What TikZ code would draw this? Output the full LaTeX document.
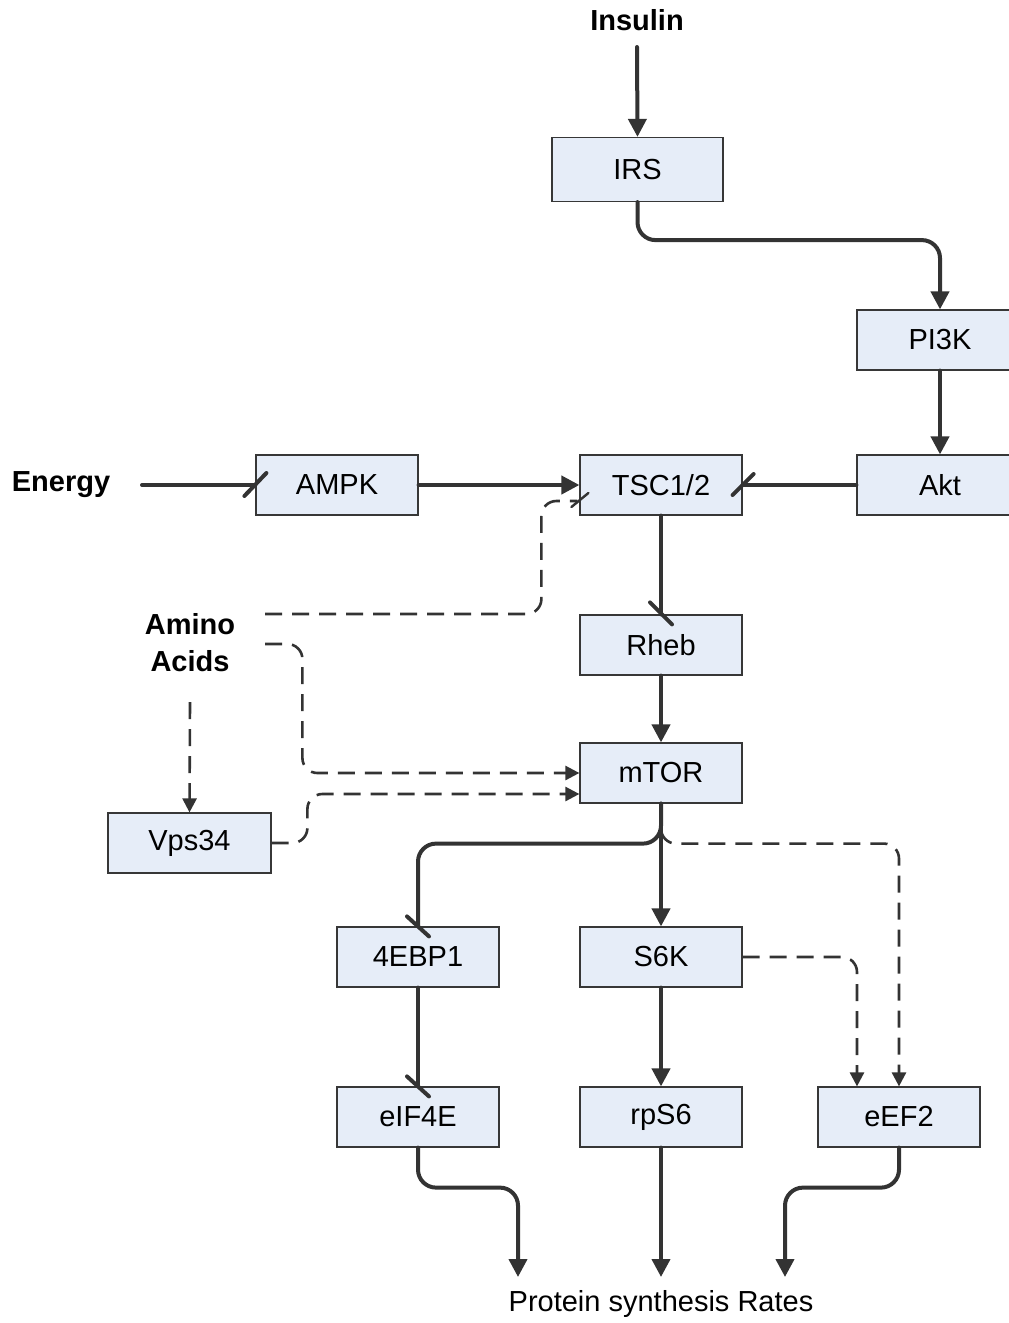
\documentclass[tikz,border=0pt]{standalone}
\usepackage{fontspec}
\setmainfont{Liberation Sans}
\usetikzlibrary{arrows.meta,calc}
\definecolor{boxfill}{RGB}{230,237,248}
\definecolor{boxborder}{RGB}{55,55,55}
\definecolor{lc}{RGB}{51,51,51}
\tikzset{
  box/.style={draw=boxborder, fill=boxfill, line width=1.2pt, minimum width=162pt,
    minimum height=60pt, inner sep=0pt, font=\fontsize{29}{35}\selectfont},
  lbl/.style={font=\fontsize{29}{37}\selectfont\bfseries, align=center, inner sep=0pt},
  conn/.style={draw=lc, line width=4pt, line cap=round, rounded corners=18pt,
    -{Triangle[length=18pt,width=18pt]}},
  inh/.style={draw=lc, line width=4pt, line cap=round, rounded corners=18pt},
  dconn/.style={draw=lc, line width=2.6pt, dash pattern=on 17pt off 10pt,
    rounded corners=15pt, -{Triangle[length=14pt,width=14pt]}},
  dinh/.style={draw=lc, line width=2.6pt, dash pattern=on 17pt off 10pt, rounded corners=15pt},
  tick/.style={draw=lc, line width=4pt, line cap=round},
  dtick/.style={draw=lc, line width=2.4pt, line cap=round}
}
\begin{document}
\begin{tikzpicture}[x=1pt,y=-1pt]
\useasboundingbox (0,0) rectangle (1009,1323);
\clip (0,0) rectangle (1009,1323);

% labels
\node[lbl] (ins) at (637,20) {Insulin};
\node[lbl] (energy) at (61,485) {Energy};
\node[lbl] (aa) at (190,643) {Amino\\Acids};
\node[font=\fontsize{29}{35}\selectfont, inner sep=0pt] (psr) at (661,1304) {Protein synthesis Rates};

% boxes
\node[box, minimum width=171pt, minimum height=64pt] (irs) at (637.5,169.5) {IRS};
\node[box, minimum width=166pt] (pik) at (940,340) {PI3K};
\node[box, minimum width=166pt] (akt) at (940,485) {Akt};
\node[box] (ampk) at (337,485) {AMPK};
\node[box] (tsc) at (661,485) {TSC1/2};
\node[box] (rheb) at (661,645) {Rheb};
\node[box] (mtor) at (661,773) {mTOR};
\node[box, minimum width=163pt] (vps) at (189.5,843) {Vps34};
\node[box] (ebp) at (418,957) {4EBP1};
\node[box] (s6k) at (661,957) {S6K};
\node[box] (eif) at (418,1117) {eIF4E};
\node[box] (rps) at (661,1117) {rpS6};
\node[box] (eef) at (899,1117) {eEF2};

% free ends
\coordinate (insS) at (637,47);
\coordinate (enE) at (142,485);
\coordinate (aa1) at (265,614);
\coordinate (aa2) at (265,644);
\coordinate (aa3) at (190,702);
\coordinate (p1) at (518,1277);
\coordinate (p2) at (661,1277);
\coordinate (p3) at (785,1277);

% solid connectors
\draw[conn] (insS) -- (irs.north);
\draw[conn] (irs.south) -- ++(0,38) -| (pik.north);
\draw[conn] (pik.south) -- (akt.north);
\draw[inh] (akt.west) -- (tsc.east);
\draw[tick] ($(tsc.east)+(-10,10)$) -- ($(tsc.east)+(11,-11)$);
\draw[inh] (enE) -- (ampk.west);
\draw[tick] ($(ampk.west)+(-11,11)$) -- ($(ampk.west)+(11,-12)$);
\draw[conn] (ampk.east) -- (tsc.west);
\draw[inh] (tsc.south) -- (rheb.north);
\draw[tick] ($(rheb.north)+(-11,-12)$) -- ($(rheb.north)+(11,10)$);
\draw[conn] (rheb.south) -- (mtor.north);

% dashed inputs
\draw[dinh] (aa1) -| ($(tsc.west)+(-38,16)$) -- ($(tsc.west)+(-2,16)$);
\draw[dtick] ($(tsc.west)+(-8,22)$) -- ($(tsc.west)+(9,8)$);
\draw[dconn] (aa2) -| ($(mtor.west)+(-277,0)$) -- (mtor.west);
\draw[dconn] (vps.east) -| ($(mtor.west)+(-272,21)$) -- ($(mtor.west)+(0,21)$);
\draw[dconn] (aa3) -- (vps.north);

% mTOR outputs
\draw[dconn] (mtor.south) -- ++(0,40) -| (eef.north);
\draw[dconn] (s6k.east) -| ($(eef.north)+(-42,0)$);
\draw[inh] (mtor.south) -- ++(0,40) -| (ebp.north);
\draw[tick] ($(ebp.north)+(-11,-10)$) -- ($(ebp.north)+(11,10)$);
\draw[conn] (mtor.south) -- (s6k.north);
\draw[conn] (s6k.south) -- (rps.north);
\draw[inh] (ebp.south) -- (eif.north);
\draw[tick] ($(eif.north)+(-11,-10)$) -- ($(eif.north)+(11,10)$);

% to protein synthesis
\draw[conn] (eif.south) -- ++(0,40) -| (p1);
\draw[conn] (rps.south) -- (p2);
\draw[conn] (eef.south) -- ++(0,40) -| (p3);
\end{tikzpicture}
\end{document}
